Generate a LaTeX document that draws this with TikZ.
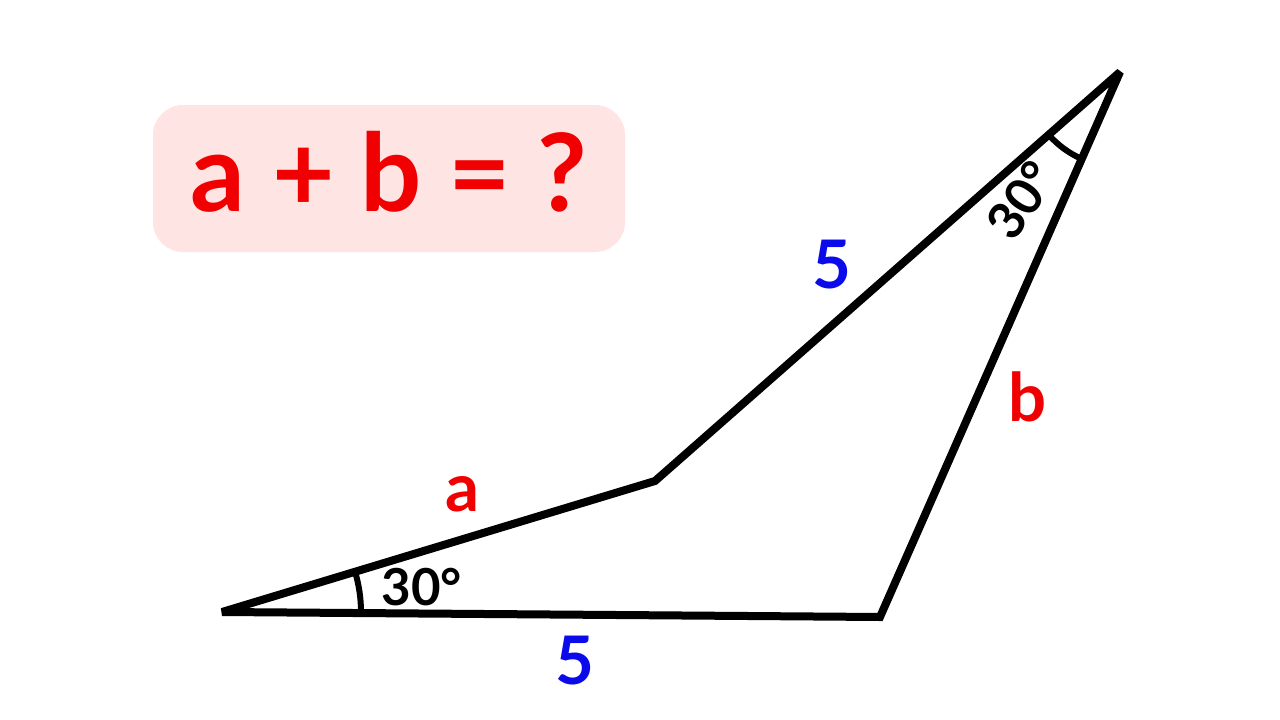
\documentclass[tikz,border=0pt]{standalone}
\usepackage{fontspec}
\setmainfont{Lato}
\definecolor{myred}{RGB}{240,0,0}
\definecolor{myblue}{RGB}{10,10,235}
\definecolor{mypink}{RGB}{255,228,228}
\begin{document}
\begin{tikzpicture}[x=1pt,y=-1pt,
  edge/.style={line width=8pt,line join=miter,miter limit=3},
  arcline/.style={line width=6pt},
  lbl/.style={font=\fontsize{67}{67}\selectfont\bfseries,inner sep=0pt,anchor=base},
  ang/.style={font=\fontsize{51}{51}\selectfont\bfseries,inner sep=0pt,anchor=base}]
\useasboundingbox (0,0) rectangle (1280,720);
\fill[white] (0,0) rectangle (1280,720);
% title box
\node[fill=mypink,rounded corners=30pt,minimum width=472pt,minimum height=147pt,inner sep=0pt] (box) at (389,178.5) {};
\node[font=\fontsize{108}{108}\selectfont\bfseries,text=myred,inner sep=0pt,anchor=base] (title) at (389,211) {a + b = ?};
% vertices
\coordinate (A) at (222,612);
\coordinate (B) at (880,617);
\coordinate (C) at (1120,72);
\coordinate (D) at (655,481);
\draw[edge] (A) -- (D) -- (C) -- (B) -- (A) -- (D);
% angle arcs
\draw[arcline] ([shift={(0:139pt)}]A) arc[start angle=0,end angle=16.8,radius=139pt];
\draw[arcline] ([shift={(221.3:95pt)}]C) arc[start angle=221.3,end angle=246.2,radius=95pt];
% labels
\node[lbl,text=myblue] (l5b) at (575,684) {5};
\node[lbl,text=myblue] (l5t) at (832,288) {5};
\node[lbl,text=myred] (la) at (462,511) {a};
\node[lbl,text=myred] (lb) at (1027,421) {b};
\node[ang] (a1) at (422,605) {30°};
\node[ang,anchor=center,rotate=55] (a2) at (1021,200) {30°};
\end{tikzpicture}
\end{document}
